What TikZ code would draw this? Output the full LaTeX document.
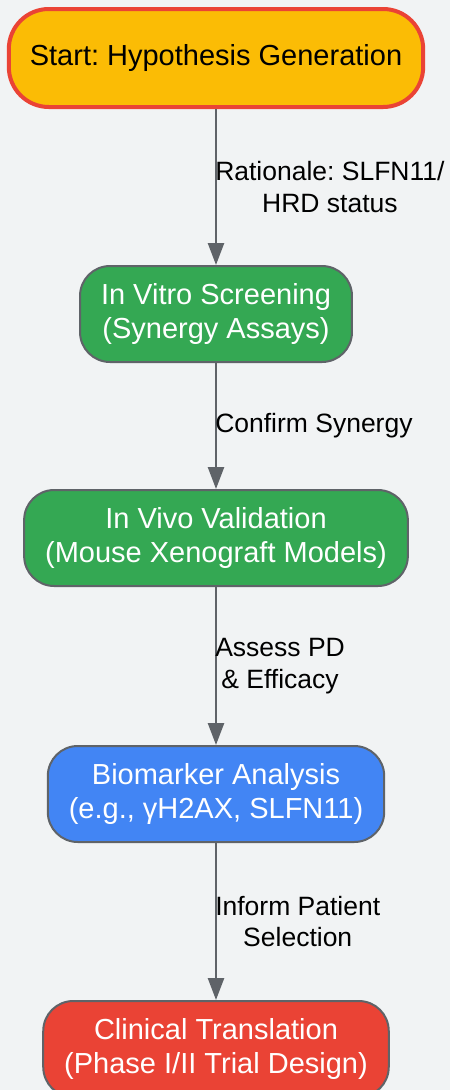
\documentclass[tikz,border=0pt]{standalone}
\usepackage{fontspec}
\setmainfont{Liberation Sans}
\frenchspacing
\usetikzlibrary{arrows.meta}
\definecolor{fond}{HTML}{F1F3F4}
\definecolor{trait}{HTML}{5F6368}
\definecolor{jaune}{HTML}{FBBC05}
\definecolor{rouge}{HTML}{EA4335}
\definecolor{vert}{HTML}{34A853}
\definecolor{bleu}{HTML}{4285F4}
\begin{document}
\begin{tikzpicture}[x=1pt, y=-1pt,
                  etape/.style={rectangle, rounded corners=30pt, draw=trait, line width=2pt,
                                minimum height=96pt, inner xsep=21pt, inner ysep=0pt,
                                align=center, text=white, font=\fontsize{29}{34.5}\selectfont},
                  fleche/.style={draw=trait, line width=2.5pt, -{Triangle[length=22pt,width=16pt]}},
                  etiq/.style={right, inner sep=0pt, xshift=-2pt, align=center,
                               font=\fontsize{26.5}{31.5}\selectfont}]
\fill[fond] (0,0) rectangle (450,1090);
\useasboundingbox (0,0) rectangle (450,1090);
\node[etape, fill=jaune, draw=rouge, line width=4pt, rounded corners=40pt, text=black,
      minimum height=98pt] (debut) at (216,58) {Start: Hypothesis Generation};
\node[etape, fill=vert] (vitro) at (216,314) {In Vitro Screening\\(Synergy Assays)};
\node[etape, fill=vert] (vivo) at (216,538) {In Vivo Validation\\(Mouse Xenograft Models)};
\node[etape, fill=bleu] (bio) at (216,794) {Biomarker Analysis\\(e.g., γH2AX, SLFN11)};
\node[etape, fill=rouge] (clin) at (216,1049) {Clinical Translation\\(Phase I/II Trial Design)};
\draw[fleche] (debut) -- (vitro) node[etiq, midway] {Rationale: SLFN11/\\HRD status};
\draw[fleche] (vitro) -- (vivo) node[etiq, midway] {Confirm Synergy};
\draw[fleche] (vivo) -- (bio) node[etiq, midway] {Assess PD\\\& Efficacy};
\draw[fleche] (bio) -- (clin) node[etiq, midway] {Inform Patient\\Selection};
\end{tikzpicture}
\end{document}
